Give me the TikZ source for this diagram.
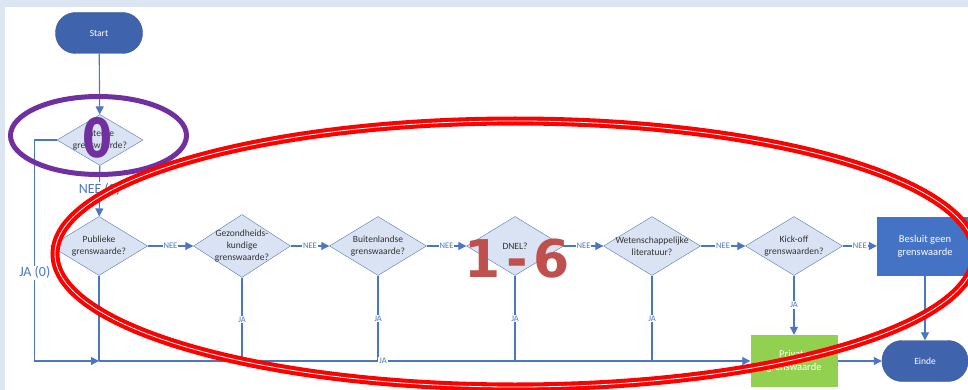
\documentclass[tikz,border=0pt]{standalone}
\usepackage{fontspec}
\setmainfont{Carlito}
\newfontfamily\bigfont[WordSpace=0.3]{DejaVu Sans}
\usetikzlibrary{positioning,arrows.meta,shapes.geometric}
\definecolor{flowline}{HTML}{4A76C4}
\definecolor{decfill}{HTML}{DAE3F3}
\definecolor{decedge}{HTML}{5676B2}
\definecolor{termfill}{HTML}{3F64AD}
\definecolor{boxfill}{HTML}{4472C4}
\definecolor{okfill}{HTML}{92D050}
\definecolor{markpurple}{HTML}{7030A0}
\definecolor{markred}{HTML}{C0504D}
\definecolor{pagebg}{HTML}{DCE6F2}

\begin{document}
\begin{tikzpicture}[x=1pt,y=-1pt,
    terminal/.style={rectangle, rounded corners=20pt, fill=termfill, draw=termfill!85!black,
      text=white, minimum width=87pt, minimum height=41pt, font=\fontsize{9.5}{11}\selectfont},
    decision/.style={diamond, draw=decedge, fill=decfill, inner sep=0pt,
      minimum width=97pt, minimum height=59pt},
    dectext/.style={align=center, text=black!80, font=\fontsize{9.5}{12}\selectfont},
    action/.style={rectangle, text=white, align=center, font=\fontsize{10.5}{13}\selectfont},
    flow/.style={draw=flowline, line width=1.1pt, -{Triangle[length=8pt,width=8pt]}},
    conn/.style={draw=flowline, line width=1.1pt},
    yes/.style={fill=white, text=flowline, inner sep=1pt, font=\fontsize{8.5}{9}\selectfont},
    bigyes/.style={fill=white, text=flowline, inner sep=1pt, font=\fontsize{14}{15}\selectfont}]

    % page
    \useasboundingbox (0,0) rectangle (968,390);
    \fill[pagebg] (0,0) rectangle (968,390);
    \fill[white] (5,7) rectangle (968,390);

    % start and step 0
    \node[terminal] (start) at (99,33) {Start};
    \node[decision, minimum width=86pt, minimum height=51pt,
      label={[dectext]center:Interne\\grenswaarde?}] (d0) at (100,140) {};

    % steps 1 - 6
    \node[decision, label={[dectext]center:Publieke\\grenswaarde?}] (pub) at (99,246) {};
    \node[decision, minimum height=63pt,
      label={[dectext]center:Gezondheids-\\kundige\\grenswaarde?}] (gez) at (242,246) {};
    \node[decision, label={[dectext]center:Buitenlandse\\grenswaarde?}] (buit) at (378,246) {};
    \node[decision, label={[dectext]center:DNEL?}] (dnel) at (515,246) {};
    \node[decision, label={[dectext]center:Wetenschappelijke\\literatuur?}] (lit) at (652,246) {};
    \node[decision, label={[dectext]center:Kick-off\\grenswaarden?}] (kick) at (794,246) {};
    \node[action, fill=boxfill, minimum width=96pt, minimum height=59pt] (geen) at (925,246) {Besluit geen\\grenswaarde};

    % outcomes
    \node[action, fill=okfill, minimum width=87pt, minimum height=52pt] (priv) at (794,361) {Private\\grenswaarde};
    \node[terminal, minimum width=86pt] (einde) at (925,361) {Einde};
    \coordinate (bus) at (pub.south |- priv.west);

    % connectors
    \draw[flow] (start) -- (d0);
    \draw[flow] (d0) -- node[bigyes, pos=0.47]{NEE (0)} (pub);
    \draw[flow] (d0.west) -- ++(-22,0) |- node[bigyes, pos=0.3]{JA (0)} (bus);
    \draw[flow] (pub) -- node[yes]{NEE} (gez);
    \draw[flow] (gez) -- node[yes]{NEE} (buit);
    \draw[flow] (buit) -- node[yes]{NEE} (dnel);
    \draw[flow] (dnel) -- node[yes]{NEE} (lit);
    \draw[flow] (lit) -- node[yes]{NEE} (kick);
    \draw[flow] (kick) -- node[yes]{NEE} (geen);
    \draw[conn] (pub.south) -- (bus);
    \foreach \d in {gez,buit,dnel,lit}
      \draw[conn] (\d.south) -- node[yes]{JA} (\d.south |- bus);
    \draw[flow] (bus) -- node[yes, pos=0.436]{JA} (priv.west);
    \draw[flow] (kick) -- node[yes]{JA} (priv);
    \draw[flow] (priv) -- (einde);
    \draw[flow] (geen) -- (einde);

    % markings
    \draw[markpurple, line width=5pt] (98.5,135.5) ellipse [x radius=88pt, y radius=39pt];
    \draw[red, line width=9pt] (515,254) ellipse [x radius=460pt, y radius=133pt];
    \draw[white, line width=0.8pt] (515,254) ellipse [x radius=460pt, y radius=133pt];
    \node[text=markpurple, xscale=0.8, font=\bigfont\bfseries\fontsize{54}{54}\selectfont] (zero) at (97.5,137.5) {0};
    \node[text=markred, font=\bigfont\bfseries\fontsize{52}{52}\selectfont] (range) at (517,259) {1 - 6};
\end{tikzpicture}
\end{document}
